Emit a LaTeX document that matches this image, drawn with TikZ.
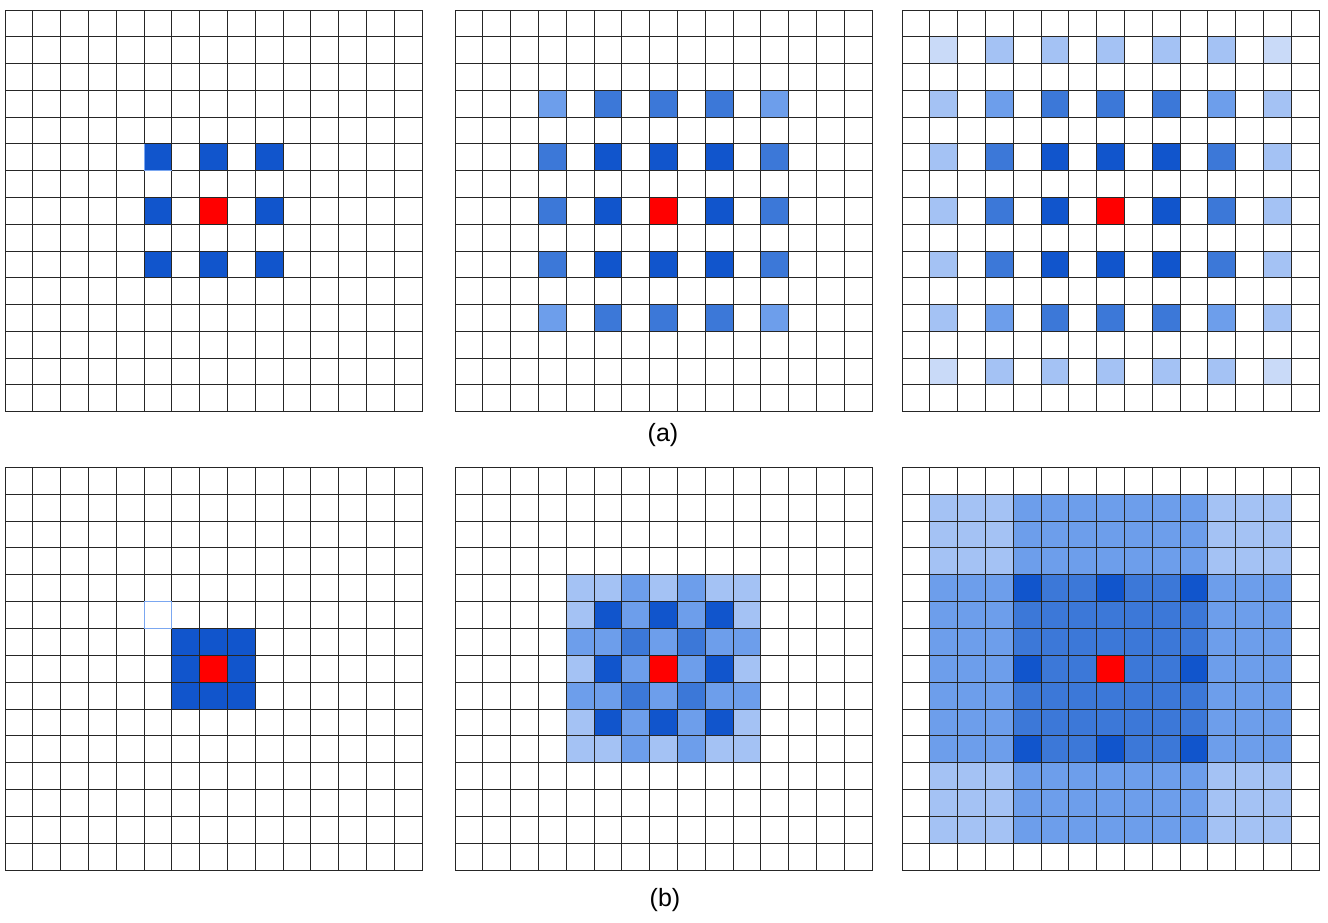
\documentclass[tikz,border=0pt]{standalone}
\usepackage{fontspec}
\setmainfont{Liberation Sans}
\definecolor{cD}{HTML}{1155CC}
\definecolor{cM}{HTML}{3C78D8}
\definecolor{cL}{HTML}{6D9EEB}
\definecolor{cLL}{HTML}{A4C2F4}
\definecolor{cXL}{HTML}{C9DAF8}
\definecolor{cR}{HTML}{FF0000}
\definecolor{selblue}{HTML}{7BA7F0}
\newcommand\gridlines{\foreach \k in {0,...,15}{\draw[gridline] (\k,0) -- (\k,15); \draw[gridline] (0,\k) -- (15,\k);}}
\newcommand\cellrow[2]{\foreach \x/\col in {#2}{\fill[fill=\col] (\x,#1) rectangle ++(1,1);}}
\begin{document}
\begin{tikzpicture}[x=1pt,y=-1pt,
  gridline/.style={line width=0.9pt, draw=black!85, line cap=rect},
  sel/.style={draw=selblue, line width=1pt},
  caption/.style={font=\fontsize{25}{30}\selectfont, inner sep=0pt},
  topgrid/.style={x=27.8pt,y=-26.78pt},
  botgrid/.style={x=27.8pt,y=-26.85pt}]
\useasboundingbox[fill=white] (0,0) rectangle (1328,922);

% ---------- (a) top-left: 3x3 dilated
\begin{scope}[shift={(5,10)},topgrid]
  \cellrow{5}{5/cD,7/cD,9/cD}
  \cellrow{7}{5/cD,7/cR,9/cD}
  \cellrow{9}{5/cD,7/cD,9/cD}
  \gridlines
  \draw[sel] (5,5) -- (5,6) -- (6,6);
\end{scope}

% ---------- (a) top-middle: 5x5 dilated
\begin{scope}[shift={(455,10)},topgrid]
  \cellrow{3}{3/cL,5/cM,7/cM,9/cM,11/cL}
  \cellrow{5}{3/cM,5/cD,7/cD,9/cD,11/cM}
  \cellrow{7}{3/cM,5/cD,7/cR,9/cD,11/cM}
  \cellrow{9}{3/cM,5/cD,7/cD,9/cD,11/cM}
  \cellrow{11}{3/cL,5/cM,7/cM,9/cM,11/cL}
  \gridlines
\end{scope}

% ---------- (a) top-right: 7x7 dilated
\begin{scope}[shift={(902,10)},topgrid]
  \cellrow{1}{1/cXL,3/cLL,5/cLL,7/cLL,9/cLL,11/cLL,13/cXL}
  \cellrow{3}{1/cLL,3/cL,5/cM,7/cM,9/cM,11/cL,13/cLL}
  \cellrow{5}{1/cLL,3/cM,5/cD,7/cD,9/cD,11/cM,13/cLL}
  \cellrow{7}{1/cLL,3/cM,5/cD,7/cR,9/cD,11/cM,13/cLL}
  \cellrow{9}{1/cLL,3/cM,5/cD,7/cD,9/cD,11/cM,13/cLL}
  \cellrow{11}{1/cLL,3/cL,5/cM,7/cM,9/cM,11/cL,13/cLL}
  \cellrow{13}{1/cXL,3/cLL,5/cLL,7/cLL,9/cLL,11/cLL,13/cXL}
  \gridlines
\end{scope}

% ---------- (b) bottom-left: 3x3 block
\begin{scope}[shift={(5,467.3)},botgrid]
  \fill[cD] (6,6) rectangle (9,9);
  \fill[cR] (7,7) rectangle ++(1,1);
  \gridlines
  \draw[sel] (5,5) rectangle ++(1,1);
\end{scope}

% ---------- (b) bottom-middle: 7x7 block
\begin{scope}[shift={(455,467.3)},botgrid]
  \cellrow{4}{4/cLL,5/cLL,6/cL,7/cLL,8/cL,9/cLL,10/cLL}
  \cellrow{5}{4/cLL,5/cD,6/cL,7/cD,8/cL,9/cD,10/cLL}
  \cellrow{6}{4/cL,5/cL,6/cM,7/cL,8/cM,9/cL,10/cL}
  \cellrow{7}{4/cLL,5/cD,6/cL,7/cR,8/cL,9/cD,10/cLL}
  \cellrow{8}{4/cL,5/cL,6/cM,7/cL,8/cM,9/cL,10/cL}
  \cellrow{9}{4/cLL,5/cD,6/cL,7/cD,8/cL,9/cD,10/cLL}
  \cellrow{10}{4/cLL,5/cLL,6/cL,7/cLL,8/cL,9/cLL,10/cLL}
  \gridlines
\end{scope}

% ---------- (b) bottom-right: 13x13 block
\begin{scope}[shift={(902,467.3)},botgrid]
  \fill[cLL] (1,1) rectangle (14,14);
  \fill[cL] (4,1) rectangle (11,14);
  \fill[cL] (1,4) rectangle (14,11);
  \fill[cM] (4,4) rectangle (11,11);
  \foreach \i in {4,7,10}{\foreach \j in {4,7,10}{\fill[cD] (\i,\j) rectangle ++(1,1);}}
  \fill[cR] (7,7) rectangle ++(1,1);
  \gridlines
\end{scope}

\node[caption] (capA) at (663,435) {(a)};
\node[caption] (capB) at (665,900) {(b)};
\end{tikzpicture}
\end{document}
